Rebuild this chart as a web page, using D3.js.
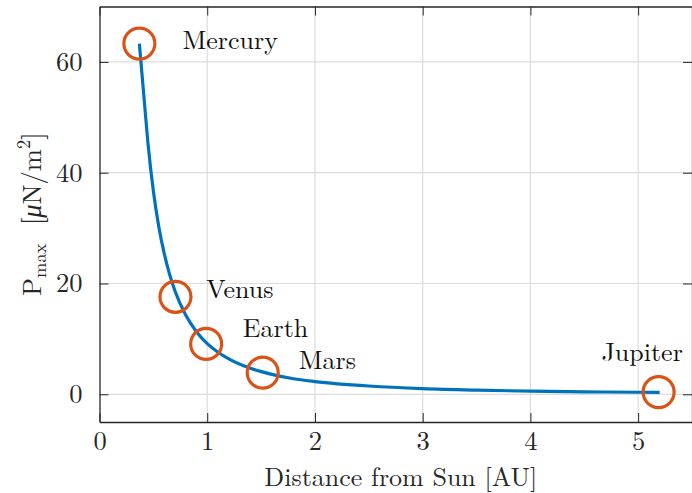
<!DOCTYPE html>
<html>
<head>
<meta charset="utf-8">
<script src="https://cdn.jsdelivr.net/npm/d3@7"></script>
<style>
  body { margin: 0; background: #fff; }
</style>
</head>
<body>
<div id="chart"></div>
<script>
'use strict'

// curve
const distance = [0.37, 0.42, 0.45, 0.5, 0.55, 0.6, 0.65, 0.7, 0.8, 0.9, 1.0, 1.1, 1.2, 1.4, 1.6, 1.8, 2.0, 2.5, 3.0, 3.5, 4.0, 4.5, 5.0, 5.2];
const pressure = [63.3, 52.0, 45.3, 36.7, 30.3, 25.5, 21.7, 18.7, 14.3, 11.3, 9.15, 7.6, 6.4, 4.7, 3.6, 2.8, 2.3, 1.5, 1.02, 0.75, 0.57, 0.45, 0.37, 0.34];

// planets
const planets = ['Mercury', 'Venus', 'Earth', 'Mars', 'Jupiter'];
const planetX = [0.37, 0.705, 0.99, 1.515, 5.19];
const planetY = [63.3, 17.6, 9.1, 3.9, 0.4];
const labelX = [0.77, 0.99, 1.33, 1.85, 4.66];
const labelY = [62.4, 17.4, 10.3, 4.5, 6.0];

const xTicks = [0, 1, 2, 3, 4, 5];
const yTicks = [0, 20, 40, 60];

const W = 692, H = 493;
const mLeft = 99.5, mRight = 692, mTop = 6.5, mBottom = 422;
const FONT = '"Latin Modern Roman", "Liberation Serif", serif';

var svg = d3.select('#chart')
    .append('svg')
    .attr('width', W)
    .attr('height', H)
    .style('font-family', FONT);

var x = d3.scaleLinear().domain([0, 5.5]).range([mLeft, mRight]);
var y = d3.scaleLinear().domain([-5, 70]).range([mBottom, mTop]);

// grid
svg.append('g').selectAll('line')
    .data(xTicks.filter(d => d > 0))
    .enter().append('line')
    .attr('x1', d => x(d)).attr('x2', d => x(d))
    .attr('y1', mTop).attr('y2', mBottom)
    .style('stroke', '#dcdcdc').style('stroke-width', 1.2);
svg.append('g').selectAll('line')
    .data(yTicks)
    .enter().append('line')
    .attr('x1', mLeft).attr('x2', mRight)
    .attr('y1', d => y(d)).attr('y2', d => y(d))
    .style('stroke', '#dcdcdc').style('stroke-width', 1.2);

// axes: ticks point inward, box on all sides
const axisColor = '#262626';
const fmt = d3.format('d');
var xBottom = svg.append('g')
    .attr('transform', `translate(0,${mBottom})`)
    .call(d3.axisBottom(x).tickValues(xTicks).tickFormat(fmt).tickSizeInner(-9).tickSizeOuter(0).tickPadding(10));
var xTop = svg.append('g')
    .attr('transform', `translate(0,${mTop})`)
    .call(d3.axisTop(x).tickValues(xTicks).tickSizeInner(-9).tickSizeOuter(0).tickFormat(''));
var yLeft = svg.append('g')
    .attr('transform', `translate(${mLeft},0)`)
    .call(d3.axisLeft(y).tickValues(yTicks).tickFormat(fmt).tickSizeInner(-9).tickSizeOuter(0).tickPadding(17));
var yRight = svg.append('g')
    .attr('transform', `translate(${mRight},0)`)
    .call(d3.axisRight(y).tickValues(yTicks).tickSizeInner(-9).tickSizeOuter(0).tickFormat(''));

[xBottom, xTop, yLeft, yRight].forEach(g => {
    g.attr('font-family', null);
    g.select('.domain').style('stroke', axisColor).style('stroke-width', 1.3);
    g.selectAll('.tick line').style('stroke', axisColor).style('stroke-width', 1);
    g.selectAll('.tick text')
        .style('font-family', FONT)
        .style('font-size', '26.5px')
        .style('fill', axisColor);
});
xBottom.selectAll('.tick text').attr('dy', null).attr('y', 28);

// curve
var line = d3.line()
    .x(i => x(distance[i]))
    .y(i => y(pressure[i]))
    .curve(d3.curveMonotoneX);
svg.append('path')
    .datum(d3.range(distance.length))
    .attr('d', line)
    .style('fill', 'none')
    .style('stroke', '#0072BD')
    .style('stroke-width', 3.2);

// planet markers
svg.append('g').selectAll('circle')
    .data(planets)
    .enter().append('circle')
    .attr('cx', (d, i) => x(planetX[i]))
    .attr('cy', (d, i) => y(planetY[i]))
    .attr('r', 15.5)
    .style('fill', 'none')
    .style('stroke', '#D95319')
    .style('stroke-width', 3.2);

svg.append('g').selectAll('text')
    .data(planets)
    .enter().append('text')
    .attr('x', (d, i) => x(labelX[i]))
    .attr('y', (d, i) => y(labelY[i]))
    .style('font-family', FONT)
    .style('font-size', '26px')
    .style('fill', '#111')
    .text(d => d);

// axis labels
svg.append('text')
    .attr('x', (mLeft + mRight) / 2 + 5)
    .attr('y', 486)
    .attr('text-anchor', 'middle')
    .style('font-family', FONT)
    .style('font-size', '26px')
    .style('fill', axisColor)
    .text('Distance from Sun [AU]');

var yl = svg.append('text')
    .attr('transform', `translate(41,${(mTop + mBottom) / 2}) rotate(-90)`)
    .attr('text-anchor', 'middle')
    .style('font-family', FONT)
    .style('font-size', '26.5px')
    .style('fill', axisColor);
yl.append('tspan').text('P');
yl.append('tspan').attr('dy', 5).style('font-size', '18.5px').text('max');
yl.append('tspan').attr('dy', -5).text('\u2002\u2009[');
yl.append('tspan').style('font-style', 'italic').text('\u03BC');
yl.append('tspan').text('N/m');
yl.append('tspan').attr('dy', -11).style('font-size', '18.5px').text('2');
yl.append('tspan').attr('dy', 11).text(']');
</script>
</body>
</html>
